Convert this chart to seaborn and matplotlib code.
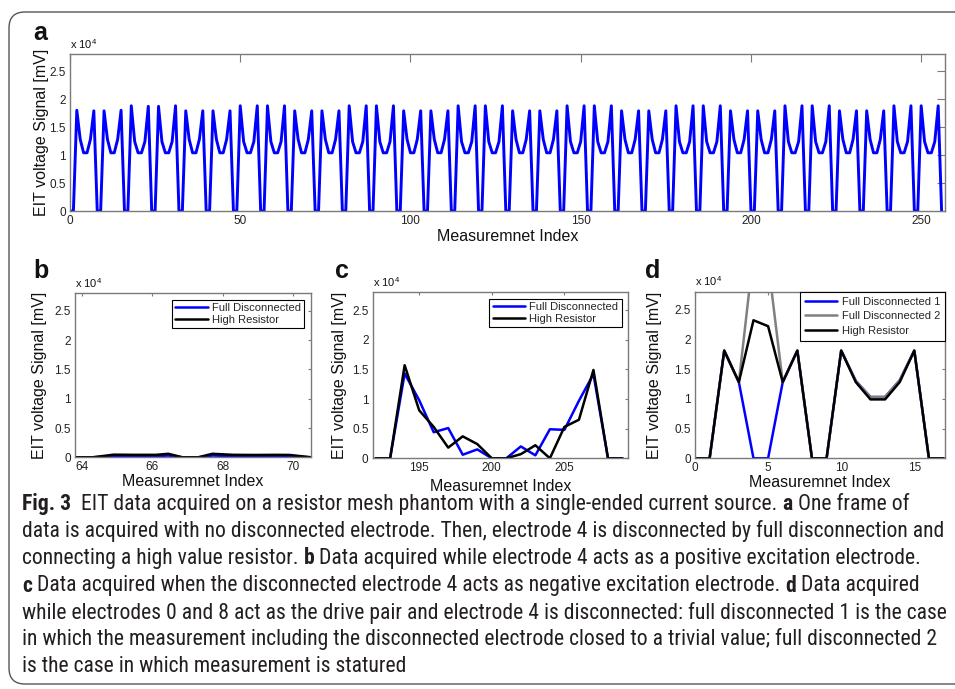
import matplotlib
matplotlib.use("Agg")
import matplotlib.pyplot as plt
import seaborn as sns
import pandas as pd
from matplotlib.ticker import FuncFormatter, FixedLocator
from matplotlib.patches import FancyBboxPatch
from matplotlib.transforms import IdentityTransform
from matplotlib import font_manager

# ---------------- data ----------------
# panel a: one frame = 32 drive patterns x 8 measurements (mV)
frame_a = [
    [0, 0, 18000, 12800, 10400, 10400, 12800, 17900],
    [0, 0, 17900, 12800, 10400, 10400, 12800, 18000],
    [0, 0, 18800, 12400, 10400, 10400, 12400, 18700],
    [0, 0, 18700, 12400, 10400, 10400, 12400, 18800],
    [0, 0, 17900, 12800, 10400, 10400, 12800, 17900],
    [0, 0, 17900, 12800, 10400, 10400, 12800, 17900],
    [0, 0, 18800, 12400, 10400, 10400, 12400, 18800],
    [0, 0, 18800, 12400, 10400, 10400, 12400, 18800],
    [0, 0, 17900, 12800, 10400, 10400, 12800, 17900],
    [0, 0, 17900, 12800, 10400, 10400, 12800, 17900],
    [0, 0, 18800, 12400, 10400, 10400, 12400, 18800],
    [0, 0, 18800, 12400, 10400, 10400, 12400, 18800],
    [0, 0, 17900, 12800, 10400, 10400, 12800, 17900],
    [0, 0, 17900, 12800, 10400, 10400, 12800, 17900],
    [0, 0, 18800, 12400, 10400, 10400, 12400, 18800],
    [0, 0, 18800, 12400, 10400, 10400, 12400, 18800],
    [0, 0, 17900, 12800, 10400, 10400, 12800, 17900],
    [0, 0, 17900, 12800, 10400, 10400, 12800, 17900],
    [0, 0, 18800, 12400, 10400, 10400, 12400, 18800],
    [0, 0, 18800, 12400, 10400, 10400, 12400, 18800],
    [0, 0, 17900, 12800, 10400, 10400, 12800, 17900],
    [0, 0, 17900, 12800, 10400, 10400, 12800, 17900],
    [0, 0, 18800, 12400, 10400, 10400, 12400, 18800],
    [0, 0, 18800, 12400, 10400, 10400, 12400, 18800],
    [0, 0, 17900, 12800, 10400, 10400, 12800, 17900],
    [0, 0, 17900, 12800, 10400, 10400, 12800, 17900],
    [0, 0, 18800, 12400, 10400, 10400, 12400, 18800],
    [0, 0, 18800, 12400, 10400, 10400, 12400, 18800],
    [0, 0, 17900, 12800, 10400, 10400, 12800, 17900],
    [0, 0, 17900, 12800, 10400, 10400, 12800, 17900],
    [0, 0, 18800, 12400, 10400, 10400, 12400, 18800],
    [0, 0, 18800, 12400, 10400, 10400, 12400, 18800],
]
tail_a = [0]

# panel b (electrode 4 as positive excitation)
b_index = [63.8, 64.3, 64.9, 65.5, 66.1, 66.45, 66.85, 67.3, 67.7, 68.3, 68.9, 69.5, 69.9, 70.5]
b_full = [0, 0, 200, 180, 180, 300, 0, 0, 300, 200, 180, 200, 180, 0]
b_high = [0, 0, 450, 420, 420, 600, 0, 0, 600, 420, 400, 420, 400, 0]

# panel c (electrode 4 as negative excitation)
c_index = [192, 193, 194, 195, 196, 197, 198, 199, 200, 201, 202, 203, 204, 205, 206, 207, 208, 209]
c_full = [0, 0, 14300, 9800, 4400, 5100, 600, 1500, 0, 0, 2000, 500, 4900, 4800, 9700, 14200, 0, 0]
c_high = [0, 0, 15700, 8100, 5300, 1800, 3700, 2400, 0, 0, 700, 2200, 0, 5300, 6500, 14900, 0, 0]

# panel d (drive pair 0-8, electrode 4 disconnected)
d_index = [0, 1, 2, 3, 4, 5, 6, 7, 8, 9, 10, 11, 12, 13, 14, 15, 16, 17]
d_full1 = [0, 0, 18100, 12800, 0, 0, 12800, 18100, 0, 0, 18100, 13000, 10300, 10300, 13100, 18100, 0, 0]
d_full2 = [0, 0, 18100, 12800, 34500, 33000, 12800, 18100, 0, 0, 18100, 13000, 10300, 10300, 13100, 18100, 0, 0]
d_high = [0, 0, 18100, 12800, 23200, 22200, 12800, 18100, 0, 0, 18100, 12800, 9900, 9900, 12800, 18100, 0, 0]

y_ticks = [0, 5000, 10000, 15000, 20000, 25000]
a_xticks = [0, 50, 100, 150, 200, 250]
b_xticks = [64, 66, 68, 70]
c_xticks = [195, 200, 205]
d_xticks = [0, 5, 10, 15]

ylab = "EIT voltage Signal [mV]"
xlab = "Measuremnet Index"

cap_lines = [
    [("Fig. 3", True, 2), ("EIT data acquired on a resistor mesh phantom with a single-ended current source.", False, 1),
     ("a", True, 1), ("One frame of", False, 0)],
    [("data is acquired with no disconnected electrode. Then, electrode 4 is disconnected by full disconnection and", False, 0)],
    [("connecting a high value resistor.", False, 1), ("b", True, 1),
     ("Data acquired while electrode 4 acts as a positive excitation electrode.", False, 0)],
    [("c", True, 1), ("Data acquired when the disconnected electrode 4 acts as negative excitation electrode.", False, 1),
     ("d", True, 1), ("Data acquired", False, 0)],
    [("while electrodes 0 and 8 act as the drive pair and electrode 4 is disconnected: full disconnected 1 is the case", False, 0)],
    [("in which the measurement including the disconnected electrode closed to a trivial value; full disconnected 2", False, 0)],
    [("is the case in which measurement is statured", False, 0)],
]

# ---------------- style ----------------
sns.set_style("white")
plt.rcParams["font.family"] = ["Liberation Sans", "DejaVu Sans"]
plt.rcParams["mathtext.default"] = "regular"

W, H = 955, 689
fig = plt.figure(figsize=(W / 100, H / 100), dpi=100)
fig.patch.set_facecolor("white")


def px_axes(left, top, right, bottom):
    return fig.add_axes([left / W, 1 - bottom / H, (right - left) / W, (bottom - top) / H])


SPINE = "#7a7a7a"


def style_axes(ax, xlim, xticks, ticklen, ylx, xly):
    ax.set_xlim(*xlim)
    ax.set_ylim(0, 28000)
    ax.xaxis.set_major_locator(FixedLocator(xticks))
    ax.yaxis.set_major_locator(FixedLocator(y_ticks))
    ax.yaxis.set_major_formatter(FuncFormatter(lambda v, p: f"{v / 1e4:g}"))
    ax.xaxis.set_major_formatter(FuncFormatter(lambda v, p: f"{v:g}"))
    for s in ax.spines.values():
        s.set_visible(True)
        s.set_color(SPINE)
        s.set_linewidth(1.0)
    ax.tick_params(direction="in", top=True, right=True, length=ticklen, width=0.8,
                   color=SPINE, labelsize=8.5, labelcolor="#222222", pad=3)
    ax.set_ylabel(ylab, fontsize=11.5, color="#111111")
    ax.set_xlabel(xlab, fontsize=11.5, color="#111111")
    ax.yaxis.set_label_coords(ylx, 0.5)
    ax.xaxis.set_label_coords(0.5, xly)
    ax.grid(False)
    ax.text(0.0, 1.02, "x 10$^{4}$", transform=ax.transAxes, fontsize=8, ha="left", va="bottom",
            color="#111111")


def legend(ax, **kw):
    opts = dict(loc="upper right", fontsize=8, frameon=True, fancybox=False, edgecolor="black",
                framealpha=1, handlelength=2.9, handletextpad=0.4, labelspacing=0.15,
                borderpad=0.3, borderaxespad=0.6)
    opts.update(kw)
    lg = ax.legend(**opts)
    lg.get_frame().set_linewidth(0.8)
    return lg


# ---- panel a ----
a_vals = [v for row in frame_a for v in row] + tail_a
df_a = pd.DataFrame({"idx": list(range(len(a_vals))), "val": a_vals})
axa = px_axes(70, 54.3, 945, 211)
sns.lineplot(data=df_a, x="idx", y="val", color="#0000ff", linewidth=2.1, ax=axa, errorbar=None)
style_axes(axa, (0, 257), a_xticks, 5.5, -0.024, -0.118)

# ---- panel b ----
axb = px_axes(75, 293.3, 311, 457.3)
sns.lineplot(x=b_index, y=b_full, color="#0000ff", linewidth=1.8, ax=axb, label="Full Disconnected",
             errorbar=None)
sns.lineplot(x=b_index, y=b_high, color="#000000", linewidth=1.8, ax=axb, label="High Resistor",
             errorbar=None)
style_axes(axb, (63.8, 70.5), b_xticks, 2.5, -0.12, -0.1)
legend(axb)

# ---- panel c ----
axc = px_axes(372.7, 292.3, 628.3, 458.3)
sns.lineplot(x=c_index, y=c_full, color="#0000ff", linewidth=1.8, ax=axc, label="Full Disconnected",
             errorbar=None)
sns.lineplot(x=c_index, y=c_high, color="#000000", linewidth=1.8, ax=axc, label="High Resistor",
             errorbar=None)
style_axes(axc, (191.8, 209.4), c_xticks, 2.5, -0.102, -0.125)
legend(axc)

# ---- panel d ----
axd = px_axes(695, 291.7, 945, 458.3)
sns.lineplot(x=d_index, y=d_full1, color="#0000ff", linewidth=1.8, ax=axd, label="Full Disconnected 1",
             errorbar=None)
sns.lineplot(x=d_index, y=d_full2, color="#808080", linewidth=1.8, ax=axd, label="Full Disconnected 2",
             errorbar=None)
sns.lineplot(x=d_index, y=d_high, color="#000000", linewidth=1.8, ax=axd, label="High Resistor",
             errorbar=None)
style_axes(axd, (0, 17.1), d_xticks, 2.5, -0.133, -0.1)
legend(axd, borderaxespad=0.0, labelspacing=0.42, borderpad=0.45)

# ---- panel letters ----
for letter, x, y in [("a", 33, 40), ("b", 33, 278), ("c", 335, 278), ("d", 645, 278)]:
    fig.text(x / W, 1 - y / H, letter, fontsize=18, fontweight="bold", ha="left", va="baseline",
             color="#111111")

# ---- rounded frame ----
frame = FancyBboxPatch((9, 5), 1000, 672, boxstyle="round,pad=0,rounding_size=16",
                       transform=IdentityTransform(), facecolor="none", edgecolor="#555555",
                       linewidth=1.0)
fig.add_artist(frame)

# ---- caption ----
def _w(wt):
    if isinstance(wt, str):
        return font_manager.weight_dict.get(wt, 400)
    return int(wt)


cap_font = "Roboto"
for cand in ["Liberation Sans Narrow", "Open Sans Condensed", "Roboto Condensed"]:
    weights = [_w(f.weight) for f in font_manager.fontManager.ttflist if f.name == cand]
    if any(280 <= w <= 500 for w in weights) and any(w >= 600 for w in weights):
        cap_font = cand
        break
normal_wt = 400
if cap_font == "Open Sans Condensed":
    normal_wt = 300

renderer = fig.canvas.get_renderer()


def text_w(s, fs, bold):
    t = fig.text(0, 0, s, fontsize=fs, family=cap_font, fontweight=700 if bold else normal_wt)
    w = t.get_window_extent(renderer).width
    t.remove()
    return w


base = 14
w2 = text_w(cap_lines[1][0][0], base, False)
fs_cap = base * 927 / w2
space_w = text_w("x x", fs_cap, False) - text_w("xx", fs_cap, False)

x0 = 22
baselines = [510, 537, 564, 591.5, 618.5, 645.5, 672.5]
for line, yb in zip(cap_lines, baselines):
    x = x0
    for s, bold, nsp in line:
        t = fig.text(x / W, 1 - yb / H, s, fontsize=fs_cap, family=cap_font,
                     fontweight=700 if bold else normal_wt, ha="left", va="baseline",
                     color="#231f20")
        x += t.get_window_extent(renderer).width + nsp * space_w

fig.savefig("out.png", dpi=100, facecolor="white")
